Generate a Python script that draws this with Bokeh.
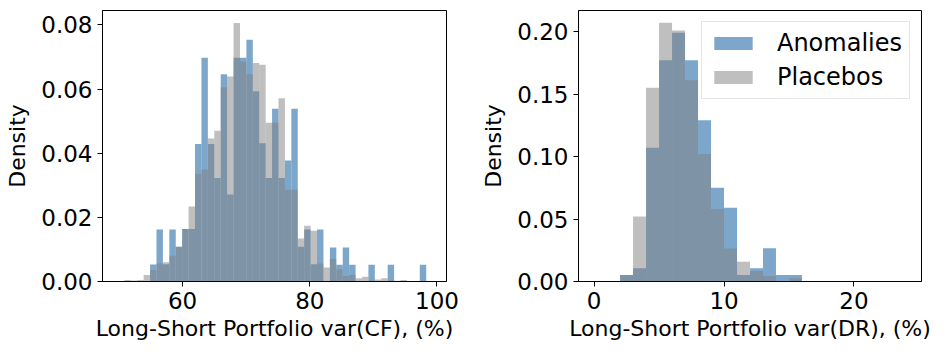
from bokeh.plotting import figure
from bokeh.layouts import row
from bokeh.models import FixedTicker, PrintfTickFormatter, Legend, LegendItem
from bokeh.embed import file_html
from bokeh.resources import INLINE

# ---------------- data ----------------
# Left panel: var(CF) histograms (density), uniform bins
CF_BIN_START = 50.84
CF_BIN_WIDTH = 1.01
cf_anomalies = [0, 0, 0, 0, 0.0053, 0.0162, 0.0054, 0.0162, 0.0108, 0.0164,
                0.0164, 0.0429, 0.0698, 0.0429, 0.0323, 0.0646, 0.0271, 0.0698,
                0.0698, 0.0754, 0.0593, 0.0431, 0.0323, 0.0539, 0.0323, 0.0377,
                0.0539, 0.0108, 0.0162, 0.0054, 0.0162, 0, 0.0106, 0.0052,
                0.0106, 0.0052, 0, 0, 0.0052, 0, 0, 0.0052, 0, 0, 0, 0, 0.0052]
cf_placebos = [0.0005, 0.0003, 0.0005, 0.002, 0.0036, 0.0056, 0.006, 0.008,
               0.0108, 0.0164, 0.0234, 0.0336, 0.0349, 0.0446, 0.047, 0.0606,
               0.0639, 0.0806, 0.0686, 0.0646, 0.0681, 0.0676, 0.0495, 0.0495,
               0.0571, 0.0286, 0.0286, 0.0134, 0.0174, 0.0158, 0.0056, 0.0044,
               0.007, 0.0038, 0.0017, 0.0021, 0.001, 0.0015, 0.0003, 0.0006,
               0.001, 0.0003, 0.0002, 0.0005, 0, 0, 0]

# Right panel: var(DR) histograms (density), bins of width 1 from 2 to 16
DR_BIN_START = 2.0
DR_BIN_WIDTH = 1.0
dr_anomalies = [0.0053, 0.0107, 0.107, 0.177, 0.199, 0.177, 0.129, 0.075,
                0.059, 0.0053, 0.0107, 0.0267, 0.0053, 0.0053]
dr_placebos = [0.0053, 0.052, 0.155, 0.207, 0.2008, 0.161, 0.102, 0.058,
               0.0265, 0.0158, 0.0085, 0.0045, 0.0, 0.0027]

cf_xticks = [60, 80, 100]
cf_yticks = [0.0, 0.02, 0.04, 0.06, 0.08]
dr_xticks = [0, 10, 20]
dr_yticks = [0.0, 0.05, 0.10, 0.15, 0.20]

series_names = ["Anomalies", "Placebos"]
x_labels = ["Long-Short Portfolio var(CF), (%)", "Long-Short Portfolio var(DR), (%)"]

FONT = "DejaVu Sans"
TICK_FS = "23px"
LABEL_FS = "22px"
LEGEND_FS = "24px"
BLUE = "steelblue"
GRAY = "grey"


def edges(start, width, n):
    lefts = [start + i * width for i in range(n)]
    rights = [l + width for l in lefts]
    return lefts, rights


def make_panel(start, width, anom, plac, xr, yr, xticks, yticks, xlabel,
               with_legend, border_right):
    p = figure(width=476, height=351, x_range=xr, y_range=yr,
               output_backend="svg", toolbar_location=None,
               min_border_left=102, min_border_right=border_right,
               min_border_top=10, min_border_bottom=70)
    l, r = edges(start, width, len(anom))
    ra = p.quad(left=l, right=r, bottom=0, top=anom, fill_color=BLUE,
                fill_alpha=0.7, line_color=None)
    l2, r2 = edges(start, width, len(plac))
    rp = p.quad(left=l2, right=r2, bottom=0, top=plac, fill_color=GRAY,
                fill_alpha=0.5, line_color=None)

    p.xgrid.visible = False
    p.ygrid.visible = False
    p.outline_line_color = "black"
    p.outline_line_width = 1
    p.background_fill_color = "white"
    p.border_fill_color = "white"

    for ax in (p.xaxis[0], p.yaxis[0]):
        ax.axis_line_color = "black"
        ax.major_tick_in = 0
        ax.major_tick_out = 5
        ax.minor_tick_line_color = None
        ax.major_tick_line_color = "black"
        ax.major_label_text_font = FONT
        ax.major_label_text_font_size = TICK_FS
        ax.major_label_text_color = "black"
        ax.axis_label_text_font = FONT
        ax.axis_label_text_font_size = LABEL_FS
        ax.axis_label_text_font_style = "normal"
        ax.axis_label_text_color = "black"

    p.xaxis.ticker = FixedTicker(ticks=xticks)
    p.yaxis.ticker = FixedTicker(ticks=yticks)
    p.yaxis.formatter = PrintfTickFormatter(format="%.2f")
    p.xaxis.major_label_standoff = 5
    p.yaxis.major_label_standoff = 5
    p.xaxis.axis_label = xlabel
    p.yaxis.axis_label = "Density"
    p.xaxis.axis_label_standoff = 4
    p.yaxis.axis_label_standoff = 8

    if with_legend:
        leg = Legend(items=[LegendItem(label=series_names[0], renderers=[ra]),
                            LegendItem(label=series_names[1], renderers=[rp])],
                     location="top_right")
        leg.margin = 11
        leg.padding = 7
        leg.spacing = 6
        leg.glyph_width = 48
        leg.glyph_height = 16
        leg.label_standoff = 20
        leg.label_text_font = FONT
        leg.label_text_font_size = LEGEND_FS
        leg.label_text_color = "black"
        leg.border_line_color = "#cccccc"
        leg.border_line_width = 1
        leg.background_fill_alpha = 0.8
        p.add_layout(leg, "center")
    return p


p1 = make_panel(CF_BIN_START, CF_BIN_WIDTH, cf_anomalies, cf_placebos,
                (47.4, 101.5), (0, 0.0845), cf_xticks, cf_yticks, x_labels[0],
                False, 30)
p2 = make_panel(DR_BIN_START, DR_BIN_WIDTH, dr_anomalies, dr_placebos,
                (-1.2, 25.2), (0, 0.2168), dr_xticks, dr_yticks, x_labels[1],
                True, 31)

layout = row(p1, p2)
open("out.html", "w").write(file_html(layout, INLINE))
